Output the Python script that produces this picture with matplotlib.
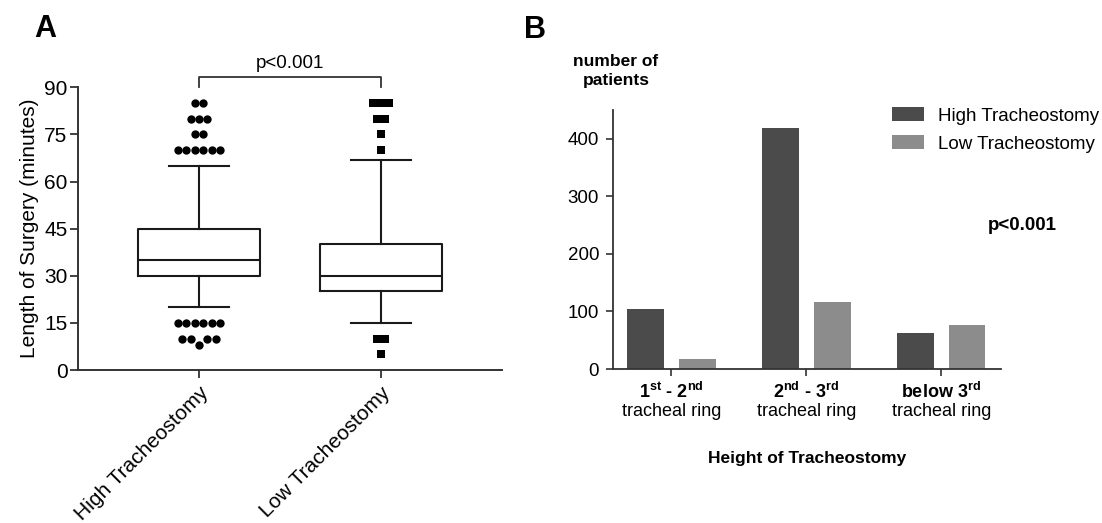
import matplotlib
matplotlib.use("Agg")
import matplotlib.pyplot as plt
import matplotlib.transforms as mtransforms
import numpy as np

plt.rcParams["font.family"] = ["Liberation Sans", "DejaVu Sans"]
plt.rcParams["mathtext.default"] = "regular"

# ---- panel A: length of surgery (box + outliers) ----
groups_a = ["High Tracheostomy", "Low Tracheostomy"]
medians = [35, 30]
q1 = [30, 25]
q3 = [45, 40]
whisk_lo = [20, 15]
whisk_hi = [65, 67]
fliers_high = [85, 85, 80, 80, 80, 75, 75, 70, 70, 70, 70, 70, 70,
               15, 15, 15, 15, 15, 15, 10, 10, 10, 10, 8]
fliers_low = [85, 85, 85, 80, 80, 75, 70, 10, 10, 5]
p_text_a = "p<0.001"

# ---- panel B: number of patients by height ----
ring_top = ["1$^{st}$ - 2$^{nd}$", "2$^{nd}$ - 3$^{rd}$", "below 3$^{rd}$"]
ring_bottom = ["tracheal ring", "tracheal ring", "tracheal ring"]
high_counts = [104, 418, 62]
low_counts = [17, 116, 76]
series_b = ["High Tracheostomy", "Low Tracheostomy"]

DARK, LIGHT, INK = "#4b4b4b", "#8c8c8c", "#1a1a1a"
W, H = 1102, 523
fig = plt.figure(figsize=(W / 100, H / 100), dpi=100)

def box(l, t, r, b):  # pixel box -> fig fraction
    return [l / W, 1 - b / H, (r - l) / W, (b - t) / H]

# ---------------- A ----------------
ax = fig.add_axes(box(78, 87.3, 502, 370))
stats = [dict(med=medians[i], q1=q1[i], q3=q3[i], whislo=whisk_lo[i],
              whishi=whisk_hi[i], fliers=[]) for i in range(2)]
lp = dict(color=INK, lw=1.5)
ax.bxp(stats, positions=[0, 1], widths=0.67, capwidths=0.33, showfliers=False,
       boxprops=lp, medianprops=lp, whiskerprops=lp, capprops=lp)
ax.set_xlim(-0.665, 1.665)
ax.set_ylim(0, 90)
ax.set_yticks(np.arange(0, 91, 15))

def swarm(ax, x0, vals, med, size_px):
    tp = ax.transData.transform
    px_x = tp((1, 0))[0] - tp((0, 0))[0]
    dx = size_px / px_x
    placed, xs, ys = [], [], []

    def free(o, v):
        p = tp((x0 + o * dx, v))
        return all(np.hypot(*(p - q)) >= size_px * 0.98 for q in placed)

    for v in sorted(set(vals), key=lambda u: -abs(u - med)):
        n = vals.count(v)
        offs = [i - (n - 1) / 2 for i in range(n)]
        if not all(free(o, v) for o in offs):
            offs, k = [], 0
            while len(offs) < n:
                for o in ([0] if k == 0 else [-k, k]):
                    if len(offs) < n and free(o, v):
                        offs.append(o)
                k += 1
        for o in offs:
            placed.append(tp((x0 + o * dx, v)))
            xs.append(x0 + o * dx)
            ys.append(v)
    return xs, ys

for i, (fl, mk, ms) in enumerate([(fliers_high, "o", 6), (fliers_low, "s", 5.3)]):
    xs, ys = swarm(ax, i, fl, medians[i], 8.4)
    ax.plot(xs, ys, ls="none", marker=mk, ms=ms, mew=0, color="black")

for s in ["top", "right"]:
    ax.spines[s].set_visible(False)
for s in ["left", "bottom"]:
    ax.spines[s].set_linewidth(1.4)
    ax.spines[s].set_color("#333333")
ax.tick_params(axis="both", length=6, width=1.3, color="#333333", labelsize=15)
ax.tick_params(axis="y", pad=1.5)
ax.set_xticks([0, 1])
ax.set_xticklabels(groups_a, rotation=45, ha="right", rotation_mode="anchor")
ax.set_ylabel("Length of Surgery (minutes)", fontsize=15, labelpad=4)

# significance bracket
ax.plot([0, 0, 1, 1], [90, 93.3, 93.3, 90], color="#333333", lw=1.3, clip_on=False)
ax.text(0.5, 97.6, p_text_a, ha="center", va="center", fontsize=13.5)

# ---------------- B ----------------
bx = fig.add_axes(box(613, 110, 1001, 369))
xb = np.arange(len(high_counts))
bw, off = 0.274, 0.19
bx.bar(xb - off, high_counts, bw, color=DARK, label=series_b[0])
bx.bar(xb + off, low_counts, bw, color=LIGHT, label=series_b[1])
bx.set_xlim(-0.433, 2.442)
bx.set_ylim(0, 450)
bx.set_yticks([0, 100, 200, 300, 400])
for s in ["top", "right"]:
    bx.spines[s].set_visible(False)
for s in ["left", "bottom"]:
    bx.spines[s].set_linewidth(1.3)
    bx.spines[s].set_color("#333333")
bx.tick_params(axis="both", length=5, width=1.2, color="#333333", labelsize=13.5)
bx.tick_params(axis="y", pad=5)
bx.set_xticks(xb)
bx.set_xticklabels([])
tr = mtransforms.blended_transform_factory(bx.transData, bx.transAxes)
for i in xb:
    bx.text(i, -23 / 259, ring_top[i], transform=tr, ha="center", va="center",
            fontsize=13, fontweight="bold")
    bx.text(i, -43 / 259, ring_bottom[i], transform=tr, ha="center", va="center",
            fontsize=13)

fig.text(807 / W, 1 - 458 / H, "Height of Tracheostomy", ha="center", va="center",
         fontsize=12.5, fontweight="bold")
fig.text(616 / W, 1 - 71 / H, "number of\npatients", ha="center", va="center",
         fontsize=12.5, fontweight="bold", linespacing=1.35)
fig.text(1022 / W, 1 - 226 / H, "p<0.001", ha="center", va="center",
         fontsize=13.5, fontweight="bold")

leg = bx.legend(loc="upper left", bbox_to_anchor=(892 / W, 1 - 107 / H),
                bbox_transform=fig.transFigure, frameon=False, fontsize=13.5,
                handlelength=1.7, handleheight=0.8, handletextpad=0.75,
                labelspacing=0.55, borderpad=0, borderaxespad=0)

# panel letters
fig.text(45 / W, 1 - 29 / H, "A", ha="center", va="center", fontsize=22, fontweight="bold")
fig.text(535 / W, 1 - 30 / H, "B", ha="center", va="center", fontsize=22, fontweight="bold")

fig.savefig("out.png", dpi=100, facecolor="white")
